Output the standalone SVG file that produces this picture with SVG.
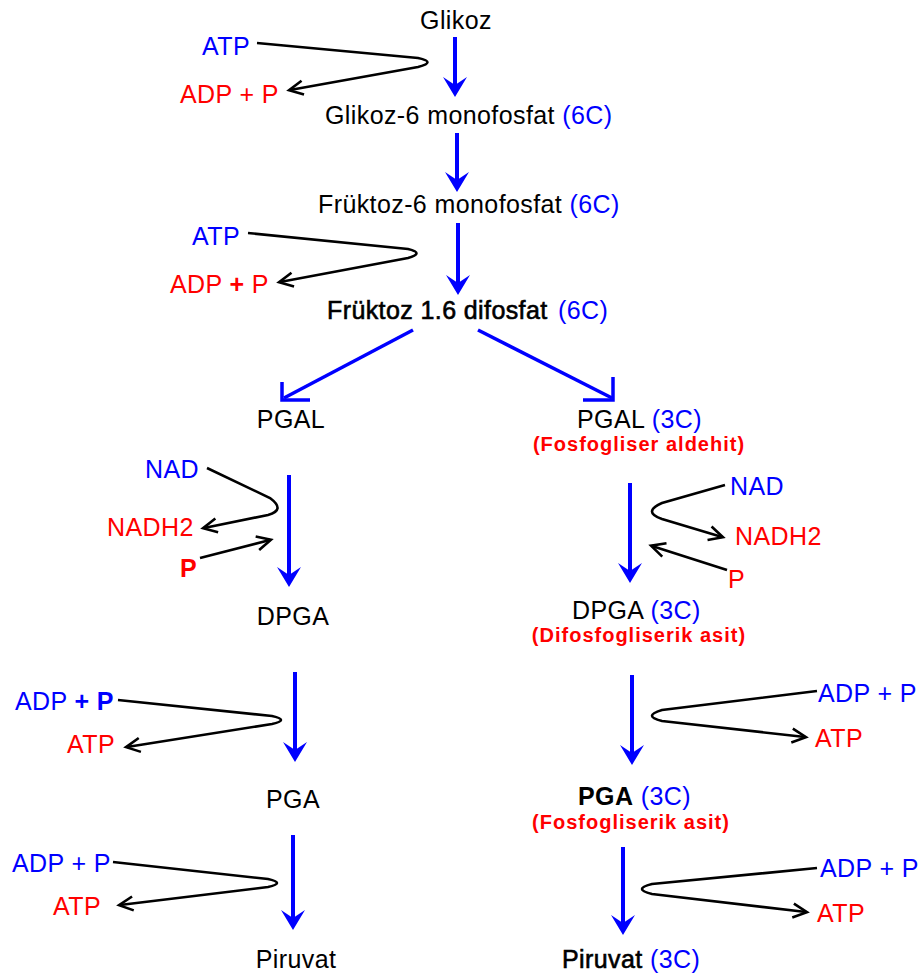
<svg xmlns="http://www.w3.org/2000/svg" width="921" height="976" viewBox="0 0 921 976">
<style>
text{font-family:"Liberation Sans",Arial,sans-serif;font-size:25px;letter-spacing:0.4px;fill:#000}
.b{fill:#0000ff}
.r{fill:#ff0000}
.sub{font-size:20px;font-weight:bold;letter-spacing:1px;fill:#ff0000;text-anchor:middle}
.mid{text-anchor:middle}
.semi{stroke:#000;stroke-width:0.6}
.bold{font-weight:bold}
.main{stroke:#0000ff;stroke-width:4;fill:none;marker-end:url(#bh)}
.diag{stroke:#0000ff;stroke-width:3.5;fill:none}
.side{stroke:#000;stroke-width:2.6;fill:none;marker-end:url(#kh)}
</style>
<defs>
<marker id="bh" markerUnits="userSpaceOnUse" markerWidth="22" markerHeight="28" refX="8" refY="13" orient="auto" overflow="visible">
<path d="M0,1 L20,13 L0,25 L8,13 Z" fill="#0000ff"/>
</marker>
<marker id="kh" markerUnits="userSpaceOnUse" markerWidth="18" markerHeight="18" refX="13" refY="8" orient="auto" overflow="visible">
<path d="M0,1 L14,8 L0,15" fill="none" stroke="#000" stroke-width="2.6"/>
</marker>
</defs>

<g id="connectors">
<line class="main" x1="455" y1="37" x2="455" y2="85"/>
<line class="main" x1="457" y1="133" x2="457" y2="180"/>
<line class="main" x1="458" y1="223" x2="458" y2="283"/>
<line class="diag" x1="413" y1="330" x2="284" y2="398"/>
<polyline class="diag" points="282,382 282,400 310,400"/>
<line class="diag" x1="478" y1="330" x2="612" y2="398"/>
<polyline class="diag" points="613,377 613,400 583,400"/>
<line class="main" x1="289" y1="475" x2="289" y2="575"/>
<line class="main" x1="630" y1="483" x2="630" y2="571"/>
<line class="main" x1="295" y1="672" x2="295" y2="750"/>
<line class="main" x1="632" y1="675" x2="632" y2="753"/>
<line class="main" x1="293" y1="835" x2="293" y2="918"/>
<line class="main" x1="623" y1="847" x2="623" y2="923"/>

<path class="side" d="M257,43 L418,58 Q437,62 418,67 L290,90"/>
<path class="side" d="M248,233 L408,249 Q425,253 408,258 L280,282"/>
<path class="side" d="M207,468 L270,498 Q286,510 268,515 L204,528"/>
<path class="side" d="M200,558 L270,540"/>
<path class="side" d="M725,485 L662,503 Q642,512 662,519 L722,537"/>
<path class="side" d="M727,570 L652,546"/>
<path class="side" d="M118,700 L272,716 Q290,720 272,724 L127,747"/>
<path class="side" d="M817,691 L662,710 Q642,716 662,721 L805,737"/>
<path class="side" d="M113,862 L268,879 Q286,883 268,887 L120,905"/>
<path class="side" d="M817,868 L652,884 Q632,889 652,894 L806,912"/>
</g>

<g id="glikoz"><text class="mid" x="456" y="29">Glikoz</text></g>
<g id="atp1"><text class="b" x="202" y="55">ATP</text></g>
<g id="adp1"><text class="r" x="180" y="103">ADP + P</text></g>
<g id="g6p"><text x="325" y="124">Glikoz-6 monofosfat <tspan class="b">(6C)</tspan></text></g>
<g id="f6p"><text x="318" y="213">Früktoz-6 monofosfat <tspan class="b">(6C)</tspan></text></g>
<g id="atp2"><text class="b" x="192" y="245">ATP</text></g>
<g id="adp2"><text class="r" x="170" y="293">ADP <tspan class="bold">+</tspan> P</text></g>
<g id="f16"><text x="327" y="319"><tspan class="semi">Früktoz 1.6 difosfat</tspan></text><text class="b" x="558" y="319">(6C)</text></g>

<g id="pgal-l"><text class="mid" x="291" y="428">PGAL</text></g>
<g id="pgal-r"><text x="577" y="428">PGAL <tspan class="b">(3C)</tspan></text><text class="sub" x="639" y="451">(Fosfogliser aldehit)</text></g>

<g id="nad-l"><text class="b" x="145" y="478">NAD</text></g>
<g id="nadh-l"><text class="r" x="107" y="536">NADH2</text></g>
<g id="p-l"><text class="r bold" x="180" y="577">P</text></g>
<g id="dpga-l"><text class="mid" x="293" y="625">DPGA</text></g>

<g id="nad-r"><text class="b" x="730" y="495">NAD</text></g>
<g id="nadh-r"><text class="r" x="735" y="545">NADH2</text></g>
<g id="p-r"><text class="r" x="728" y="588">P</text></g>
<g id="dpga-r"><text x="572" y="619">DPGA <tspan class="b">(3C)</tspan></text><text class="sub" x="639" y="642">(Difosfogliserik asit)</text></g>

<g id="adp3"><text class="b" x="15" y="710">ADP <tspan class="bold">+ P</tspan></text></g>
<g id="atp3"><text class="r" x="67" y="753">ATP</text></g>
<g id="pga-l"><text class="mid" x="293" y="808">PGA</text></g>

<g id="adp4"><text class="b" x="818" y="702">ADP + P</text></g>
<g id="atp4"><text class="r" x="815" y="747">ATP</text></g>
<g id="pga-r"><text x="578" y="805"><tspan class="bold">PGA</tspan> <tspan class="b">(3C)</tspan></text><text class="sub" x="631" y="829">(Fosfogliserik asit)</text></g>

<g id="adp5"><text class="b" x="12" y="872">ADP + P</text></g>
<g id="atp5"><text class="r" x="53" y="915">ATP</text></g>
<g id="piruvat-l"><text class="mid" x="296" y="968">Piruvat</text></g>

<g id="adp6"><text class="b" x="820" y="877">ADP + P</text></g>
<g id="atp6"><text class="r" x="817" y="922">ATP</text></g>
<g id="piruvat-r"><text x="562" y="968"><tspan class="semi">Piruvat</tspan> <tspan class="b">(3C)</tspan></text></g>
</svg>
